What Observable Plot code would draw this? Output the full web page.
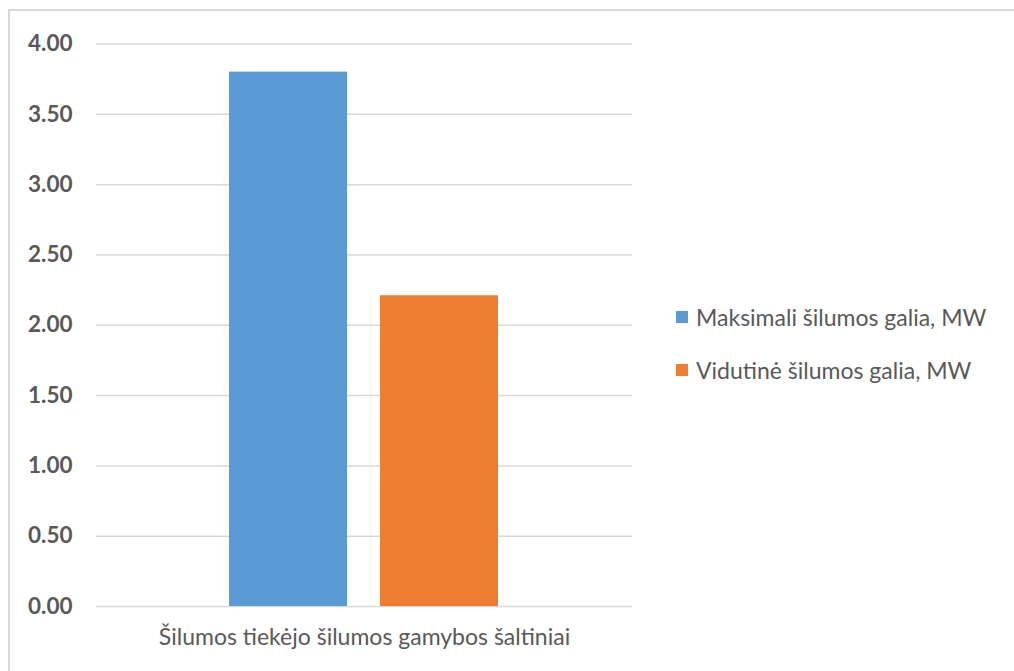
<!DOCTYPE html>
<html>
<head>
<meta charset="utf-8">
<script src="https://cdn.jsdelivr.net/npm/d3@7"></script>
<script src="https://cdn.jsdelivr.net/npm/@observablehq/plot@0.6"></script>
<style>
  html, body { margin: 0; padding: 0; background: #fff; overflow: hidden; }
  #wrap { position: relative; width: 1014px; height: 671px; }
  #frame { position: absolute; left: 8px; top: 9px; width: 1100px; height: 800px;
           border-top: 2px solid #d9d9d9; border-left: 2px solid #d9d9d9; }
  #chart { position: absolute; left: 0; top: 0; }
  #legend { position: absolute; left: 676px; top: 302px; font-family: Lato, sans-serif;
            font-size: 23px; color: #595959; }
  .item { display: flex; align-items: center; height: 30px; margin-bottom: 23px; }
  .sw { width: 12px; height: 12px; margin-right: 8px; }
</style>
</head>
<body>
<div id="wrap">
  <div id="frame"></div>
  <div id="chart"></div>
  <div id="legend"></div>
</div>
<script>
const series = ["Maksimali šilumos galia, MW", "Vidutinė šilumos galia, MW"];
const values = [3.80, 2.21];
const colors = ["#5B9BD5", "#ED7D31"];
const yTicks = [0, 0.5, 1, 1.5, 2, 2.5, 3, 3.5, 4];
const xLabel = "Šilumos tiekėjo šilumos gamybos šaltiniai";

const data = series.map((s, i) => ({series: s, value: values[i]}));

const chart = Plot.plot({
  width: 1014,
  height: 671,
  marginTop: 43.5,
  marginBottom: 65,
  marginLeft: 96,
  marginRight: 382,
  style: {background: "transparent", fontFamily: "Lato, sans-serif"},
  x: {domain: series, axis: null, paddingInner: 0.217, paddingOuter: 0.872},
  y: {domain: [0, 4], ticks: yTicks, tickFormat: d3.format(".2f")},
  color: {domain: series, range: colors},
  marks: [
    Plot.gridY(yTicks, {stroke: "#d9d9d9", strokeOpacity: 1, strokeWidth: 1.5}),
    Plot.axisY(yTicks, {tickSize: 0, tickPadding: 24, tickFormat: d3.format(".2f"), label: null,
      fontSize: 22.5, fontWeight: "bold", fill: "#595959"}),
    Plot.barY(data, {x: "series", y: "value", fill: "series"}),
    Plot.text([xLabel], {frameAnchor: "bottom", dy: 38, fontSize: 23, fill: "#595959"})
  ]
});
document.getElementById("chart").appendChild(chart);

const legend = document.getElementById("legend");
series.forEach((s, i) => {
  const d = document.createElement("div");
  d.className = "item";
  d.innerHTML = `<span class="sw" style="background:${colors[i]}"></span><span>${s}</span>`;
  legend.appendChild(d);
});
</script>
</body>
</html>
